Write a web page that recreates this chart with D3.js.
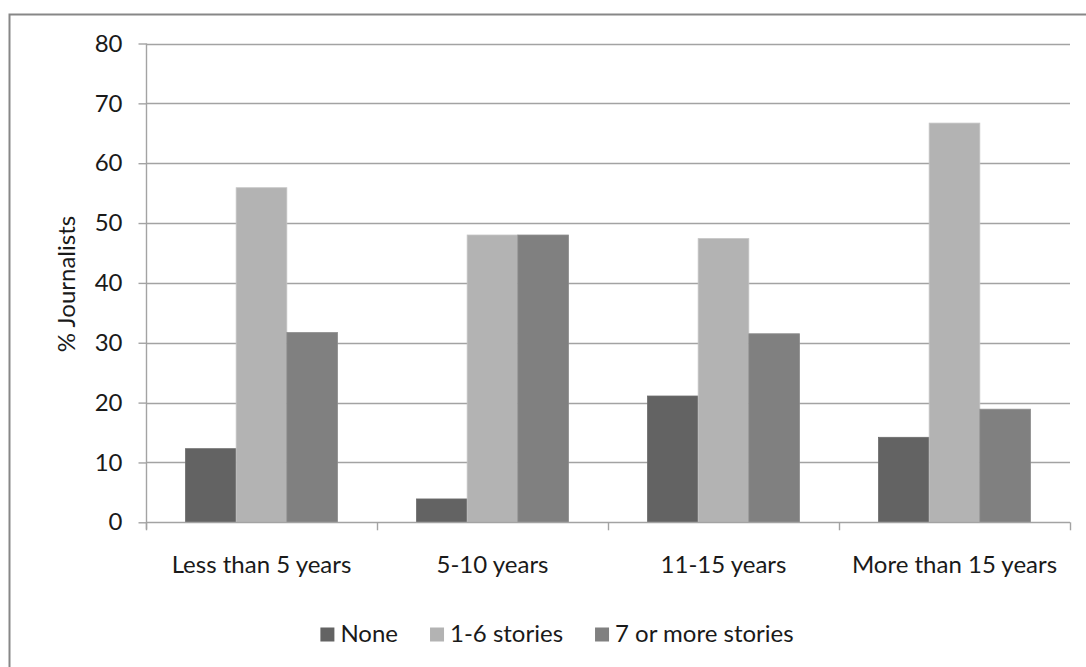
<!DOCTYPE html>
<html>
<head>
<meta charset="utf-8">
<script src="https://cdn.jsdelivr.net/npm/d3@7/dist/d3.min.js"></script>
<style>
  html, body { margin: 0; padding: 0; background: #fff; }
  svg { display: block; }
  text { font-family: Lato, "Open Sans", sans-serif; fill: #1a1a1a; }
</style>
</head>
<body>
<svg id="chart" width="1086" height="667"></svg>
<script>
// Years of experience groups
const categories = ["Less than 5 years", "5-10 years", "11-15 years", "More than 15 years"];
// Number of stories written
const seriesNames = ["None", "1-6 stories", "7 or more stories"];
const seriesColors = ["#636363", "#b3b3b3", "#808080"];
// Percentage of journalists, one array per series (in category order)
const noneValues = [12.3, 3.9, 21.1, 14.2];
const oneToSixValues = [55.9, 48.0, 47.4, 66.7];
const sevenPlusValues = [31.7, 48.0, 31.5, 18.9];
const yTicks = [0, 10, 20, 30, 40, 50, 60, 70, 80];
const yTitle = "% Journalists";

const seriesValues = [noneValues, oneToSixValues, sevenPlusValues];
const rows = categories.map((c, i) => ({
  category: c,
  values: seriesNames.map((s, j) => ({ series: s, idx: j, value: seriesValues[j][i] }))
}));

const svg = d3.select("#chart");
const FONT = 24;
const gridColor = "#a3a3a3";

// Outer chart border
svg.append("rect")
  .attr("x", 9.5).attr("y", 14.5)
  .attr("width", 1100).attr("height", 680)
  .attr("fill", "#fff")
  .attr("stroke", "#878787").attr("stroke-width", 2);

const plot = { left: 146, right: 1070, top: 43.5, bottom: 522.3 };

const x = d3.scaleBand().domain(categories).range([plot.left, plot.right]).paddingInner(0).paddingOuter(0);
const xs = d3.scaleBand().domain(seriesNames).range([0, x.bandwidth()]).paddingInner(0).paddingOuter(0.78);
const y = d3.scaleLinear().domain([0, 80]).range([plot.bottom, plot.top]);

// Horizontal gridlines
svg.append("g").selectAll("line").data(yTicks.filter(t => t > 0)).join("line")
  .attr("x1", plot.left).attr("x2", plot.right)
  .attr("y1", d => Math.round(y(d)) + 0.5).attr("y2", d => Math.round(y(d)) + 0.5)
  .attr("stroke", gridColor).attr("stroke-width", 1.4);

// Y axis
const yAxis = svg.append("g")
  .attr("transform", `translate(${plot.left + 0.5},0)`)
  .call(d3.axisLeft(y).tickValues(yTicks).tickSize(8).tickPadding(16).tickSizeOuter(0));
yAxis.select(".domain").attr("stroke", gridColor).attr("stroke-width", 1.4)
  .attr("d", `M0,${plot.top}V${plot.bottom + 7}`);
yAxis.selectAll(".tick line").attr("stroke", gridColor).attr("stroke-width", 1.4);
yAxis.selectAll(".tick text").attr("font-size", FONT).attr("fill", "#1a1a1a")
  .style("font-family", "Lato, sans-serif");

// Bars
const groups = svg.append("g").selectAll("g").data(rows).join("g")
  .attr("transform", d => `translate(${x(d.category)},0)`);
groups.selectAll("rect").data(d => d.values).join("rect")
  .attr("x", d => xs(d.series))
  .attr("y", d => y(d.value))
  .attr("width", xs.bandwidth())
  .attr("height", d => y(0) - y(d.value))
  .attr("fill", d => seriesColors[d.idx])
  .attr("stroke", d => d3.color(seriesColors[d.idx]).brighter(0.25))
  .attr("stroke-width", 0.8);

// X axis baseline and category boundary ticks
svg.append("line")
  .attr("x1", plot.left).attr("x2", plot.right)
  .attr("y1", Math.round(y(0)) + 0.5).attr("y2", Math.round(y(0)) + 0.5)
  .attr("stroke", gridColor).attr("stroke-width", 1.4);
const bounds = categories.map(c => x(c)).concat([plot.right]);
svg.append("g").selectAll("line").data(bounds).join("line")
  .attr("x1", d => d + 0.5).attr("x2", d => d + 0.5)
  .attr("y1", y(0)).attr("y2", y(0) + 8)
  .attr("stroke", gridColor).attr("stroke-width", 1.4);

// Category labels
svg.append("g").selectAll("text").data(categories).join("text")
  .attr("x", d => x(d) + x.bandwidth() / 2)
  .attr("y", 572.5)
  .attr("text-anchor", "middle")
  .attr("font-size", FONT)
  .text(d => d);

// Y axis title
svg.append("text")
  .attr("transform", `translate(75,284) rotate(-90)`)
  .attr("text-anchor", "middle")
  .attr("font-size", FONT)
  .text(yTitle);

// Legend, centred under the plot
const legend = svg.append("g");
const sw = 14, gapText = 6, gapItem = 32;
const items = legend.selectAll("g").data(seriesNames).join("g");
items.append("rect")
  .attr("width", sw).attr("height", sw)
  .attr("y", 627.5)
  .attr("fill", (d, i) => seriesColors[i]);
items.append("text")
  .attr("x", sw + gapText).attr("y", 641.5)
  .attr("font-size", FONT)
  .text(d => d);
let cursor = 0;
const offsets = [];
items.each(function () {
  offsets.push(cursor);
  const w = d3.select(this).select("text").node().getComputedTextLength();
  cursor += sw + gapText + w + gapItem;
});
const total = cursor - gapItem;
const legendCenter = 557;
items.attr("transform", (d, i) => `translate(${legendCenter - total / 2 + offsets[i]},0)`);
</script>
</body>
</html>
